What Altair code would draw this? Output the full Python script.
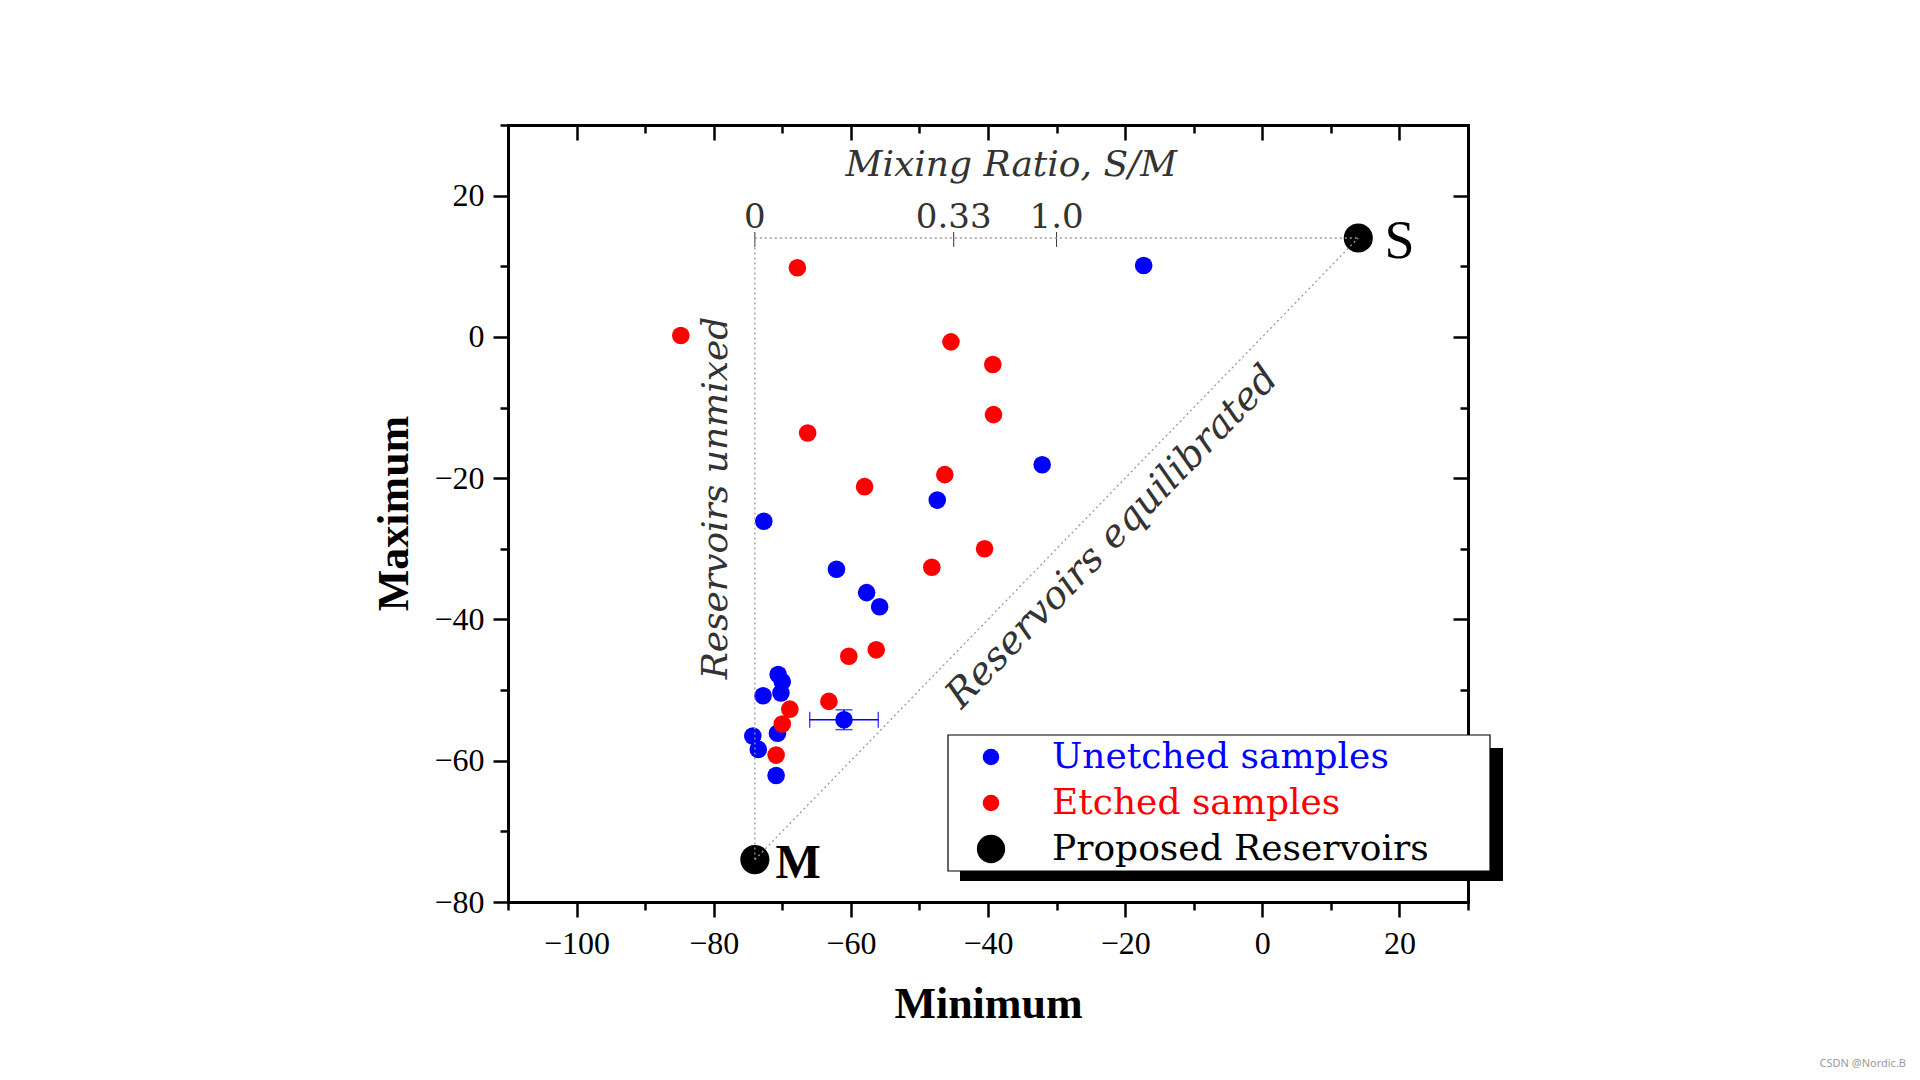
import altair as alt
import pandas as pd

# ---------------- data ----------------
unetched_x = [-17.3, -32.1, -47.4, -72.7, -62.1, -57.7, -55.8, -70.6, -70.0, -70.2, -72.8, -61.0, -70.7, -74.3, -73.5, -70.9]
unetched_y = [10.1, -18.1, -23.1, -26.1, -32.9, -36.2, -38.2, -47.8, -48.8, -50.4, -50.8, -54.2, -56.1, -56.5, -58.4, -62.1]

etched_x = [-67.8, -84.8, -45.4, -39.3, -39.2, -66.3, -58.0, -46.3, -40.5, -48.2, -56.3, -60.3, -63.2, -68.9, -70.0, -70.9]
etched_y = [9.8, 0.2, -0.7, -3.9, -11.0, -13.6, -21.2, -19.5, -30.0, -32.6, -44.3, -45.2, -51.6, -52.7, -54.8, -59.2]

reservoir_names = ["M", "S"]
reservoir_x = [-74.0, 14.0]
reservoir_y = [-74.0, 14.0]

# error bar on one unetched sample
err_x = [-61.0]
err_y = [-54.2]
err_xlo = [-66.0]
err_xhi = [-56.0]
err_ylo = [-55.6]
err_yhi = [-52.8]

groups = ["Unetched samples", "Etched samples", "Proposed Reservoirs"]
group_colors = ["#0000ff", "#ff0000", "#000000"]
group_sizes = [310, 310, 850]

# mixing-ratio scale along the top dotted line
ratio_labels = ["0", "0.33", "1.0"]
ratio_x = [-74.0, -45.0, -30.0]
ratio_line_y = [14.0, 14.0, 14.0]
ratio_tick_top = [14.85, 14.85, 14.85]
ratio_tick_bot = [12.75, 12.75, 12.75]

# dotted guide segments (M -> top, top -> S, M -> S)
seg_x1 = [-74.0, -74.0, -74.0]
seg_y1 = [-74.0, 14.0, -74.0]
seg_x2 = [-74.0, 14.0, 14.0]
seg_y2 = [14.0, 14.0, 14.0]

annot_texts = ["Mixing Ratio, S/M", "Reservoirs unmixed", "Reservoirs equilibrated"]
annot_x = [-36.6, -79.7, -21.9]
annot_y = [24.3, -22.8, -28.3]
annot_angle = [0, 270, 314]
annot_fs = [36, 36, 38.5]

label_M_pos = [-67.7, -74.6]
label_S_pos = [20.0, 13.4]

x_ticks = list(range(-110, 31, 10))
y_ticks = list(range(-80, 31, 10))

# ---------------- tables ----------------
rows = []
i = 0
for xv, yv in zip(unetched_x, unetched_y):
    rows.append({"group": groups[0], "x": xv, "y": yv, "sz": group_sizes[0], "idx": i}); i += 1
for xv, yv in zip(etched_x, etched_y):
    rows.append({"group": groups[1], "x": xv, "y": yv, "sz": group_sizes[1], "idx": i}); i += 1
for xv, yv in zip(reservoir_x, reservoir_y):
    rows.append({"group": groups[2], "x": xv, "y": yv, "sz": group_sizes[2], "idx": i}); i += 1
pts_df = pd.DataFrame(rows)

res_df = pd.DataFrame({"name": reservoir_names, "x": reservoir_x, "y": reservoir_y})
seg_df = pd.DataFrame({"x": seg_x1, "y": seg_y1, "x2": seg_x2, "y2": seg_y2})
ratio_df = pd.DataFrame({"label": ratio_labels, "x": ratio_x, "y": ratio_line_y,
                         "yt": ratio_tick_top, "yb": ratio_tick_bot})
err_df = pd.DataFrame({"x": err_x, "y": err_y, "xlo": err_xlo, "xhi": err_xhi,
                       "ylo": err_ylo, "yhi": err_yhi})
err_capx_df = pd.DataFrame({"x": err_xlo + err_xhi, "y": err_y * 2})
err_capy_df = pd.DataFrame({"x": err_x * 2, "y": err_ylo + err_yhi})
ann_df = pd.DataFrame({"text": annot_texts, "x": annot_x, "y": annot_y,
                       "angle": annot_angle, "fs": annot_fs})
m_df = pd.DataFrame({"t": ["M"], "x": [label_M_pos[0]], "y": [label_M_pos[1]]})
s_df = pd.DataFrame({"t": ["S"], "x": [label_S_pos[0]], "y": [label_S_pos[1]]})
one_df = pd.DataFrame({"k": [0]})

# ---------------- scales / axes ----------------
xs = alt.Scale(domain=[-110, 30], nice=False, zero=False)
ys = alt.Scale(domain=[-80, 30], nice=False, zero=False)

major_out = alt.ExprRef(expr="datum.value % 20 === 0 ? 15 : 8")
major_in = alt.ExprRef(expr="datum.value % 20 === 0 ? -15 : -8")
lab_expr = "datum.value % 20 === 0 ? datum.label : ''"

common_axis = dict(grid=False, tickColor="black", tickWidth=2.5, domainColor="black",
                   domainWidth=3, domainCap="square", labelOverlap=False, labelFlush=False)

ax_bottom = alt.Axis(orient="bottom", values=x_ticks, tickSize=major_out, labelExpr=lab_expr,
                     labelFont="Liberation Serif", labelFontSize=32, labelColor="black",
                     labelPadding=11, title="Minimum", titleFont="Liberation Serif",
                     titleFontSize=44, titleFontWeight="bold", titleColor="black",
                     titleY=102, titleBaseline="middle", **common_axis)
ax_left = alt.Axis(orient="left", values=y_ticks, tickSize=major_out, labelExpr=lab_expr,
                   labelFont="Liberation Serif", labelFontSize=32, labelColor="black",
                   labelPadding=9, title="Maximum", titleFont="Liberation Serif",
                   titleFontSize=44, titleFontWeight="bold", titleColor="black",
                   titleX=-114, titleY=388, titleAngle=270, titleBaseline="middle",
                   titleAlign="center", **common_axis)
ax_top = alt.Axis(orient="top", values=x_ticks, tickSize=major_in, labels=False, title=None,
                  **common_axis)
ax_right = alt.Axis(orient="right", values=y_ticks, tickSize=major_in, labels=False, title=None,
                    **common_axis)

legend = alt.Legend(
    title=None, orient="none", legendX=465, legendY=614, direction="vertical",
    labelFont="DejaVu Serif", labelFontSize=36,
    labelColor=alt.ExprRef(expr="datum.label === 'Unetched samples' ? '#0000ff' : datum.label === 'Etched samples' ? '#ff0000' : '#000000'"),
    symbolSize=alt.ExprRef(expr="datum.label === 'Proposed Reservoirs' ? 800 : 275"),
    symbolType="circle", symbolStrokeWidth=0, labelOffset=43, rowPadding=10,
    padding=0, labelLimit=1000,
)

# ---------------- layers ----------------
guides = alt.Chart(seg_df).mark_rule(color="#999999", strokeWidth=1.3, strokeDash=[2, 3]).encode(
    x=alt.X("x:Q", scale=xs, axis=None), y=alt.Y("y:Q", scale=ys, axis=None),
    x2="x2:Q", y2="y2:Q")

ratio_ticks = alt.Chart(ratio_df).mark_rule(color="#333333", strokeWidth=1).encode(
    x=alt.X("x:Q", scale=xs, axis=None), y=alt.Y("yt:Q", scale=ys, axis=None), y2="yb:Q")

ratio_text = alt.Chart(ratio_df).mark_text(font="DejaVu Serif", fontSize=34, color="#333333",
                                           align="center", baseline="alphabetic", dy=-10).encode(
    x=alt.X("x:Q", scale=xs, axis=None), y=alt.Y("y:Q", scale=ys, axis=None), text="label:N")

annots = alt.Chart(ann_df).mark_text(font="DejaVu Serif", fontStyle="italic",
                                     color="#333333", align="center", baseline="middle").encode(
    x=alt.X("x:Q", scale=xs, axis=None), y=alt.Y("y:Q", scale=ys, axis=None),
    text="text:N", angle=alt.Angle("angle:Q", scale=None), size=alt.Size("fs:Q", scale=None))

err_h = alt.Chart(err_df).mark_rule(color="#0000ff", strokeWidth=1.5).encode(
    x=alt.X("xlo:Q", scale=xs, axis=None), x2="xhi:Q", y=alt.Y("y:Q", scale=ys, axis=None))
err_v = alt.Chart(err_df).mark_rule(color="#0000ff", strokeWidth=1.5).encode(
    x=alt.X("x:Q", scale=xs, axis=None), y=alt.Y("ylo:Q", scale=ys, axis=None), y2="yhi:Q")
err_capx = alt.Chart(err_capx_df).mark_tick(color="#0000ff", orient="vertical", size=16,
                                            thickness=1.5).encode(
    x=alt.X("x:Q", scale=xs, axis=None), y=alt.Y("y:Q", scale=ys, axis=None))
err_capy = alt.Chart(err_capy_df).mark_tick(color="#0000ff", orient="horizontal", size=17,
                                            thickness=1.5).encode(
    x=alt.X("x:Q", scale=xs, axis=None), y=alt.Y("y:Q", scale=ys, axis=None))

points = alt.Chart(pts_df).mark_circle(opacity=1).encode(
    x=alt.X("x:Q", scale=xs, axis=ax_bottom),
    y=alt.Y("y:Q", scale=ys, axis=ax_left),
    color=alt.Color("group:N", scale=alt.Scale(domain=groups, range=group_colors), legend=legend),
    size=alt.Size("sz:Q", scale=None),
    order=alt.Order("idx:Q"),
)

m_label = alt.Chart(m_df).mark_text(font="Liberation Serif", fontWeight="bold", fontSize=48,
                                    color="black", align="center", baseline="middle").encode(
    x=alt.X("x:Q", scale=xs, axis=None), y=alt.Y("y:Q", scale=ys, axis=None), text="t:N")
s_label = alt.Chart(s_df).mark_text(font="Liberation Serif", fontSize=54, color="black",
                                    align="center", baseline="middle").encode(
    x=alt.X("x:Q", scale=xs, axis=None), y=alt.Y("y:Q", scale=ys, axis=None), text="t:N")

frame = alt.Chart(res_df).mark_point(opacity=0).encode(
    x=alt.X("x:Q", scale=xs, axis=ax_top), y=alt.Y("y:Q", scale=ys, axis=ax_right))

shadow = alt.Chart(one_df).mark_rect(color="black").encode(
    x=alt.value(452), x2=alt.value(995), y=alt.value(623), y2=alt.value(756))
box = alt.Chart(one_df).mark_rect(fill="white", stroke="black", strokeWidth=1.2).encode(
    x=alt.value(440), x2=alt.value(982), y=alt.value(610), y2=alt.value(746))

watermark = alt.Chart(one_df).mark_text(text="CSDN @Nordic.B", font="Noto Sans", fontSize=11,
                                        color="#9a9a9a", align="right", baseline="middle").encode(
    x=alt.value(1398), y=alt.value(939))

chart = alt.layer(
    ratio_ticks, ratio_text, annots, err_h, err_v, err_capx, err_capy,
    points, guides, m_label, s_label, frame, shadow, box, watermark
).resolve_axis(x="independent", y="independent").properties(
    width=960, height=777,
    autosize=alt.AutoSizeParams(type="none"),
    padding={"left": 500, "top": 117, "right": 444, "bottom": 170},
    background="white",
).configure_view(strokeWidth=0)

chart.save("out.html", embed_options={"renderer": "svg", "actions": False})
